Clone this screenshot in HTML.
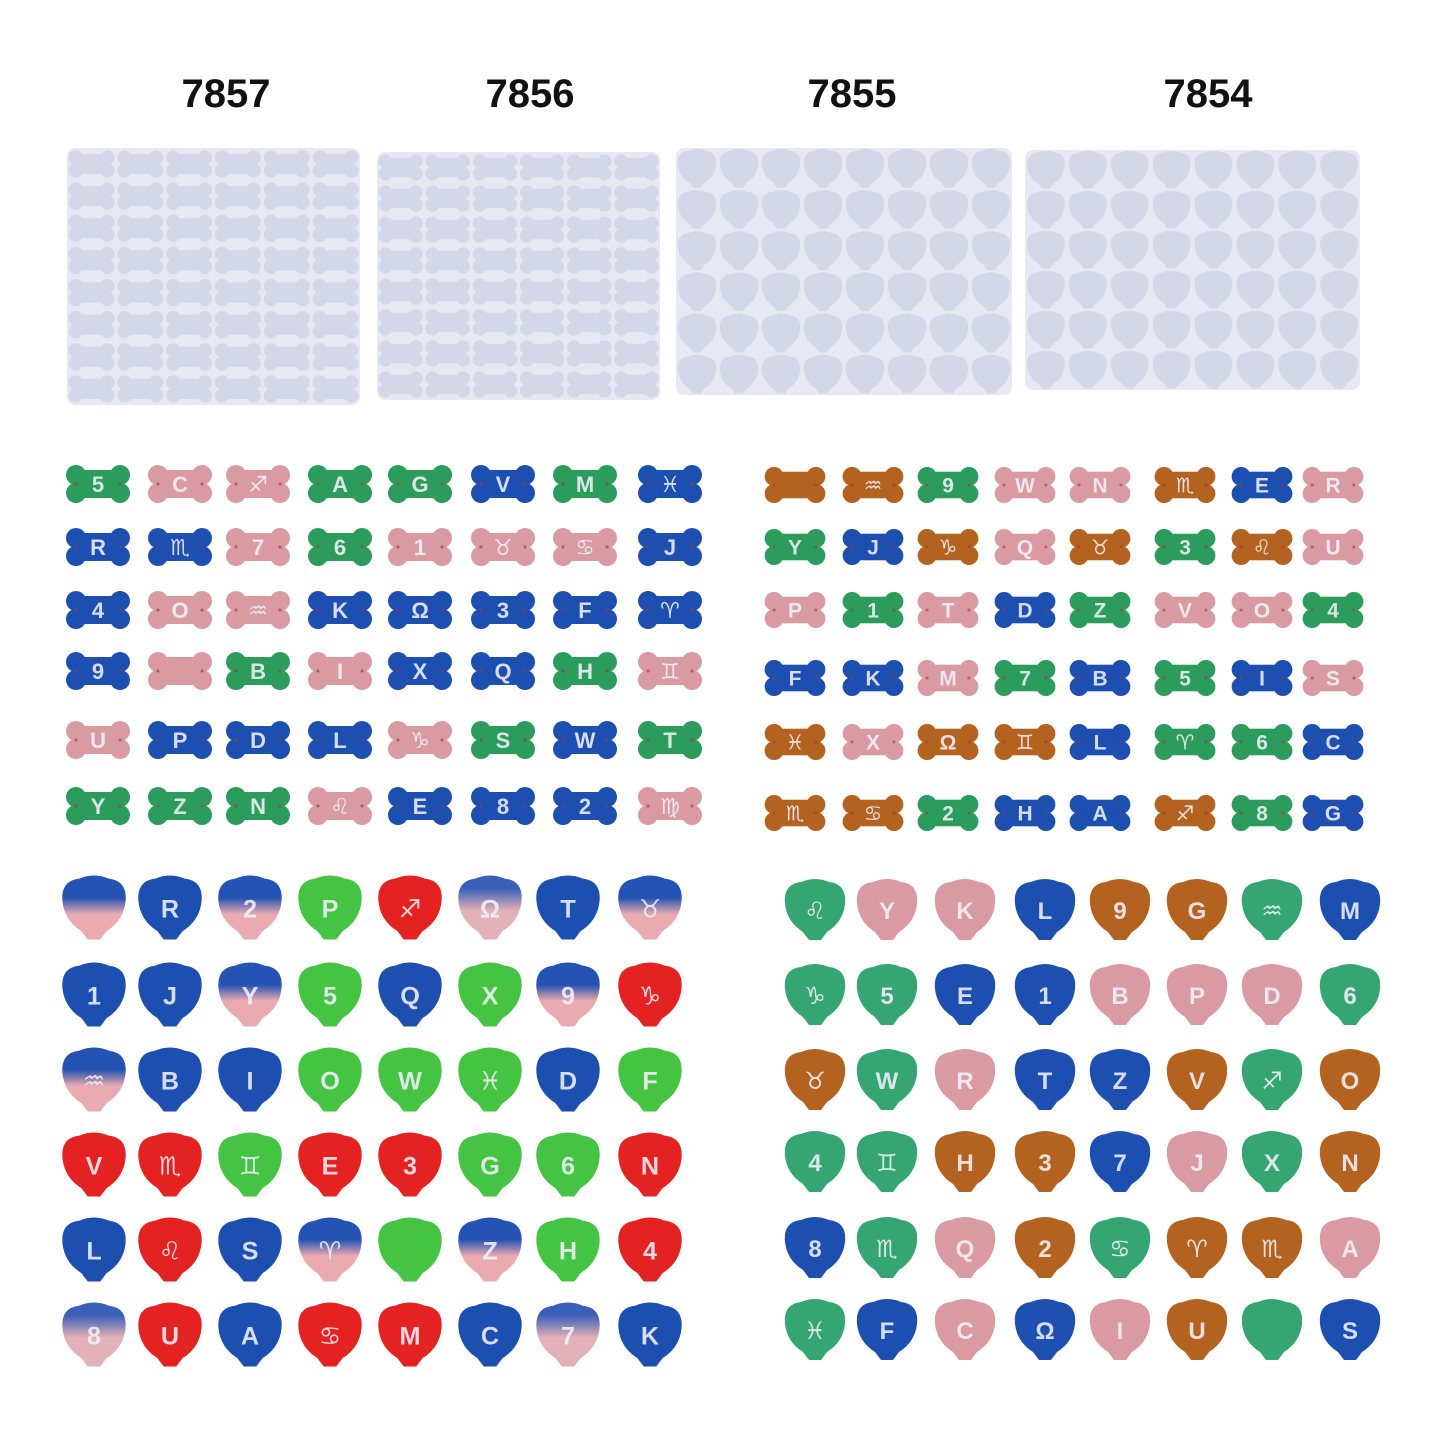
<!DOCTYPE html><html><head><meta charset="utf-8"><style>
html,body{margin:0;padding:0;background:#fff;}
svg{display:block}
text{font-family:"Liberation Sans","DejaVu Sans",sans-serif;}
</style></head><body>
<svg id="s" width="1445" height="1438" viewBox="0 0 1445 1438" xmlns="http://www.w3.org/2000/svg">
<defs>
<linearGradient id="gBP" x1="0" y1="0" x2="0" y2="1"><stop offset="0.35" stop-color="#2553b3"/><stop offset="0.6" stop-color="#e9aab0"/></linearGradient>
<linearGradient id="gPB" x1="0" y1="0" x2="0" y2="1"><stop offset="0.2" stop-color="#3a5fb8"/><stop offset="0.55" stop-color="#e3b1b8"/></linearGradient>
</defs>
<g font-weight="bold" font-size="40" text-anchor="middle" fill="#111">
<text x="226" y="107">7857</text><text x="530" y="107">7856</text><text x="852" y="107">7855</text><text x="1208" y="107">7854</text>
</g>
<g id="molds"></g>
<g id="items"></g>
</svg>
<script>
var NS="http://www.w3.org/2000/svg";
function el(t,a,p){var e=document.createElementNS(NS,t);for(var k in a)e.setAttribute(k,a[k]);p.appendChild(e);return e;}
var molds=document.getElementById('molds'),items=document.getElementById('items');
var SHELL="M-30,-6 Q-32,-26 -14,-28 Q0,-34 14,-28 Q32,-26 30,-6 Q28,12 12,22 L6,30 L-6,30 L-12,22 Q-28,12 -30,-6z";
function shape(type,g,fill,stroke){
 if(type=='b'){
  var a={fill:fill};
  el('rect',{x:-24,y:-14,width:48,height:28,fill:fill},g);
  [[-22,-9],[22,-9],[-22,9],[22,9]].forEach(function(p){el('circle',{cx:p[0],cy:p[1],r:10,fill:fill},g);});
 } else {
  el('path',{d:SHELL,fill:fill},g);
 }
}
function mold(x,y,w,h,cols,rows,type){
 el('rect',{x:x,y:y,width:w,height:h,rx:8,fill:'#e6e8f3'},molds);
 var cw=w/cols,ch=h/rows;
 for(var r=0;r<rows;r++)for(var c=0;c<cols;c++){
  var cx=x+cw*(c+.5),cy=y+ch*(r+.5);
  var s=type=='b'?Math.min(cw/68,ch/42):Math.min(cw/66,ch/64);
  var g=el('g',{transform:'translate('+cx+','+cy+') scale('+s+')'},molds);
  shape(type,g,'#d3d7e8');
 }
}
mold(67,148,293,257,6,8,'b');
mold(377,152,283,248,6,8,'b');
mold(676,148,336,247,8,6,'s');
mold(1025,150,335,240,8,6,'s');
var C={G:'#2c9c5c',B:'#1d4fb0',P:'#d99aa1',O:'#b4621f',R:'#e42222',L:'#45c443',T:'#35a572',X:'url(#gBP)',Y:'url(#gPB)'};
function grid(type,xs,ys,cols,labs,sc){
 for(var r=0;r<ys.length;r++){var cr=cols[r].split(''),lr=labs[r];
  for(var c=0;c<xs.length;c++){
   var g=el('g',{transform:'translate('+xs[c]+','+ys[r]+') scale('+sc+')'},items);
   shape(type,g,C[cr[c]]);
   var t=el('text',{x:0,y:type=='b'?8:9,'text-anchor':'middle','font-size':type=='b'?22:24,'font-weight':'bold',fill:'rgba(240,240,250,0.88)'},g);
   t.textContent=lr[c];
   if(type=='b'){el('circle',{cx:-22,cy:0,r:1.6,fill:'#a33',opacity:.6},g);el('circle',{cx:22,cy:0,r:1.6,fill:'#a33',opacity:.6},g);}
  }}
}
grid('b',[98,180,258,340,420,503,585,670],[484,547,610,671,740,806],
['GPPGGBGB','BBPGPPPB','BPPBBBBB','BPGPBBGP','PBBBPGBG','GGGPBBBP'],
[['5','C','♐','A','G','V','M','♓'],['R','♏','7','6','1','♉','♋','J'],['4','O','♒','K','Ω','3','F','♈'],['9','','B','I','X','Q','H','♊'],['U','P','D','L','♑','S','W','T'],['Y','Z','N','♌','E','8','2','♍']],1.0);
grid('b',[795,873,948,1025,1100,1185,1262,1333],[485,547,610,678,742,813],
['OOGPPOBP','GBOPOGOP','PGPBGPPG','BBPGBGBP','OPOOBGGB','OOGBBOGB'],
[['','♒','9','W','N','♏','E','R'],['Y','J','♑','Q','♉','3','♌','U'],['P','1','T','D','Z','V','O','4'],['F','K','M','7','B','5','I','S'],['♓','X','Ω','♊','L','♈','6','C'],['♏','♋','2','H','A','♐','8','G']],0.95);
grid('s',[94,170,250,330,410,490,568,650],[908,995,1080,1165,1250,1335],
['XBXLRYBX','BBXLBLXR','XBBLLLBL','RRLRRLLR','BRBXLXLR','YRBRRBYB'],
[['','R','2','P','♐','Ω','T','♉'],['1','J','Y','5','Q','X','9','♑'],['♒','B','I','O','W','♓','D','F'],['V','♏','♊','E','3','G','6','N'],['L','♌','S','♈','','Z','H','4'],['8','U','A','♋','M','C','7','K']],1.05);
grid('s',[815,887,965,1045,1120,1197,1272,1350],[910,995,1080,1162,1248,1330],
['TPPBOOTB','TTBBPPPT','OTPBBOTO','TTOOBPTO','BTPOTOOP','TBPBPOTB'],
[['♌','Y','K','L','9','G','♒','M'],['♑','5','E','1','B','P','D','6'],['♉','W','R','T','Z','V','♐','O'],['4','♊','H','3','7','J','X','N'],['8','♏','Q','2','♋','♈','♏','A'],['♓','F','C','Ω','I','U','','S']],1.0);
</script>
</body></html>
